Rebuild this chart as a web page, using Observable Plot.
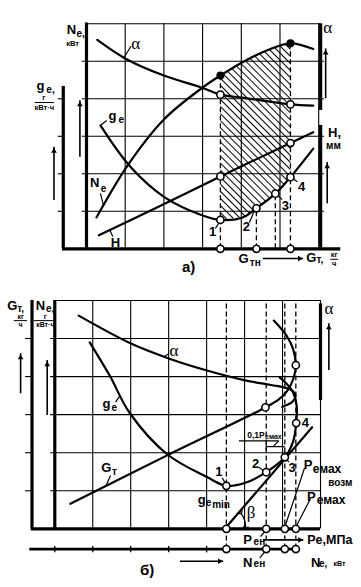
<!DOCTYPE html>
<html><head><meta charset="utf-8">
<script src="https://cdn.jsdelivr.net/npm/d3@7"></script>
<script src="https://cdn.jsdelivr.net/npm/@observablehq/plot@0.6"></script>
<style>
html,body{margin:0;padding:0;background:#fff;}
#chart svg{display:block;}
</style></head><body><div id="chart"></div>
<script>
// ---------- panel а) : curves in grid units ----------
const alphaA = [[0.28,5.57],[1.01,5.07],[2.0,4.62],[3.0,4.29],[3.46,4.11],[4.02,4.03],[4.7,3.93],[5.27,3.85],[5.86,3.82]];
const neA    = [[0.26,0.84],[1.06,2.22],[2.0,3.45],[3.0,4.3],[3.46,4.62],[4.02,4.97],[4.69,5.3],[5.27,5.48],[5.86,5.33]];
const geA    = [[0.36,3.29],[1.14,2.18],[2.01,1.38],[3.0,0.89],[3.46,0.77],[4.02,0.83],[4.39,1.08],[4.88,1.47],[5.27,1.91],[5.86,2.67]];
const hA     = [[0.32,0.36],[1.9,1.14],[3.46,1.93],[5.27,2.82],[5.86,3.11]];
const openA  = [[3.46,4.11],[3.46,1.93],[3.46,0.77],[4.39,1.08],[4.88,1.47],[5.27,3.85],[5.27,2.82],[5.27,1.91]];
const filledA = [[3.46,4.62],[5.27,5.48]];
const axisPtsA = [3.46,4.39,5.27];
const keyXA = [3.46,4.39,4.88,5.27];
const hatchFrom = 3.46, hatchTo = 5.27;

// ---------- panel б) ----------
const alphaB = [[0.63,5.6],[2.02,4.86],[3.02,4.47],[4.01,4.16],[5.02,3.9],[5.7,3.78],[6.1,3.7],[6.28,3.61],[6.34,3.47],[6.25,3.33],[6.1,3.25],[5.99,3.2]];
const geB    = [[0.92,4.9],[1.45,4.02],[1.97,3.05],[2.96,1.96],[4.01,1.36],[4.52,1.13],[5.02,1.21],[5.57,1.49],[6.06,1.88],[6.28,2.3],[6.36,2.78],[6.37,3.25],[6.27,3.6],[6.1,3.82],[5.93,3.97]];
const gtB    = [[0.41,0.66],[2.96,1.93],[5.55,3.19],[5.9,3.4],[6.12,3.62],[6.28,3.93],[6.35,4.3],[6.28,4.72],[6.1,5.08],[5.77,5.47]];
const tangentB = [[4.52,0.05],[6.78,2.67]];
const openB = [[4.52,1.13],[5.57,1.49],[6.06,1.88],[6.36,2.78],[5.55,3.19],[6.35,4.3]];
const keyXB = [4.52,5.57,6.06,6.35];
const peLevel = 0, neLevel = -0.53;
const betaArc = [[4.9,0.42],[4.98,0.28],[5.02,0.14],[5.03,0.02]];

const F = "Liberation Sans, Arial, sans-serif";
const SERIF = "Liberation Serif, Times New Roman, serif";
const range = (a,b) => d3.range(a,b+1);

function txt(data, size, extra={}) {
  return Plot.text(data, {x:"x", y:"y", text:"t", fontSize:size, fontFamily:F, fontWeight:"bold", fill:"black", ...extra});
}
function curve(data, w=2.2) {
  return Plot.line(data, {x:d=>d[0], y:d=>d[1], curve:"catmull-rom", stroke:"black", strokeWidth:w});
}
function segs(data, w=1.2) {
  return Plot.link(data, {x1:"x1", y1:"y1", x2:"x2", y2:"y2", stroke:"black", strokeWidth:w});
}
function upArrows(data) {
  return [Plot.ruleX(data, {x:"x", y1:"y1", y2:"y2", strokeWidth:1.6}),
          Plot.dot(data, {x:"x", y:"y2", symbol:"triangle2", r:2.7, fill:"black", stroke:"none", dy:4})];
}
function rightArrows(data) {
  return [Plot.ruleY(data, {y:"y", x1:"x1", x2:"x2", strokeWidth:1.6}),
          Plot.dot(data, {x:"x2", y:"y", symbol:"triangle2", rotate:90, r:2.7, fill:"black", stroke:"none", dx:-4})];
}
const circ = (data, r=3.6) => Plot.dot(data, {x:d=>d[0], y:d=>d[1], r, fill:"white", stroke:"black", strokeWidth:1.6});

// ---------- labels а) ----------
const labelsA = [
 {x:-0.39,y:5.85,t:"N"},{x:-1.19,y:4.34,t:"g"},{x:0.67,y:3.55,t:"g"},{x:0.21,y:1.76,t:"N"},{x:0.75,y:0.17,t:"H"},
 {x:3.26,y:0.44,t:"1"},{x:4.13,y:0.59,t:"2"},{x:5.14,y:1.15,t:"3"},{x:5.56,y:1.66,t:"4"},
 {x:4.06,y:-0.28,t:"G"},{x:5.81,y:-0.23,t:"G"},{x:6.41,y:3.1,t:"H,"}];
const subsA = [{x:-0.15,y:5.72,t:"e,"},{x:-0.93,y:4.24,t:"e,"},{x:0.9,y:3.45,t:"e"},{x:0.44,y:1.6,t:"e"},
 {x:4.36,y:-0.36,t:"тн"},{x:6.03,y:-0.3,t:"т,"},{x:6.38,y:2.75,t:"мм"}];
const smallA = [{x:-0.36,y:5.46,t:"кВт"},{x:-1.1,y:4.02,t:"г"},{x:-1.09,y:3.77,t:"кВт·ч"},{x:6.4,y:-0.16,t:"кг"},{x:6.4,y:-0.4,t:"ч"}];
const greekA = [{x:6.23,y:5.9,t:"α"},{x:1.27,y:5.47,t:"α"}];
const fracA = [{x1:-1.34,y1:3.9,x2:-0.84,y2:3.9},{x1:6.3,y1:-0.28,x2:6.5,y2:-0.28}];
const leadersA = [
 {x1:1.15,y1:5.4,x2:0.98,y2:5.12},{x1:0.52,y1:3.42,x2:0.36,y2:3.29},{x1:0.36,y1:1.48,x2:0.44,y2:1.15},
 {x1:0.6,y1:0.5,x2:0.68,y2:0.33},{x1:3.33,y1:0.54,x2:3.44,y2:0.72},{x1:4.21,y1:0.7,x2:4.34,y2:1.02},
 {x1:5.06,y1:1.31,x2:4.94,y2:1.42},{x1:5.45,y1:1.79,x2:5.32,y2:1.88}];
const upA = [{x:-0.17,y1:2.44,y2:3.95},{x:-0.84,y1:1.29,y2:2.71},{x:6.18,y1:4.0,y2:5.33},{x:6.22,y1:1.2,y2:2.3}];
const rightA = [{y:-0.26,x1:4.57,x2:5.61}];

// ---------- labels б) ----------
const labelsB = [
 {x:-1.12,y:5.85,t:"G"},{x:-0.38,y:5.87,t:"N"},{x:1.36,y:3.28,t:"g"},{x:1.36,y:1.6,t:"G"},
 {x:4.32,y:1.49,t:"1"},{x:5.29,y:1.72,t:"2"},{x:6.25,y:1.6,t:"3"},{x:6.6,y:2.78,t:"4"},
 {x:3.87,y:0.76,t:"g"},{x:6.67,y:1.68,t:"P"},{x:6.76,y:0.85,t:"P"},{x:5.08,y:-0.29,t:"P"},
 {x:5.08,y:-0.88,t:"N"},{x:6.87,y:-0.88,t:"N"}];
const subsB = [
 {x:-0.9,y:5.77,t:"т,"},{x:-0.12,y:5.77,t:"e,"},{x:1.57,y:3.17,t:"e"},{x:1.57,y:1.5,t:"т"},{x:4.05,y:0.69,t:"e"},
 {x:5.39,y:-0.35,t:"ен"},{x:5.39,y:-0.93,t:"ен"},{x:7.07,y:-0.93,t:"е,"},{x:4.38,y:0.63,t:"min"}];
const pmaxB = [{x:7.17,y:1.58,t:"емах"},{x:7.28,y:0.76,t:"емах"}];
const smallB = [{x:-0.9,y:5.56,t:"кг"},{x:-0.9,y:5.37,t:"ч"},{x:-0.25,y:5.56,t:"г"},{x:-0.25,y:5.37,t:"кВт·ч"},{x:7.5,y:-0.92,t:"кВт"}];
const dimB = [{x:5.3,y:2.45,t:"0,1P"}];
const dimSubB = [{x:5.76,y:2.42,t:"емах"}];
const vozmB = [{x:7.52,y:1.22,t:"возм"}];
const greekB = [{x:7.22,y:5.78,t:"α"},{x:3.14,y:4.68,t:"α"},{x:5.17,y:0.44,t:"β"}];
const fracB = [{x1:-1.08,y1:5.47,x2:-0.73,y2:5.47},{x1:-0.55,y1:5.47,x2:0.0,y2:5.47}];
const leadersB = [
 {x1:3.0,y1:4.6,x2:2.88,y2:4.52},{x1:1.6,y1:3.33,x2:1.72,y2:3.5},{x1:1.47,y1:1.4,x2:1.36,y2:1.16},
 {x1:4.41,y1:1.34,x2:4.5,y2:1.19},{x1:5.37,y1:1.62,x2:5.5,y2:1.53},{x1:6.17,y1:1.75,x2:6.1,y2:1.84},
 {x1:6.58,y1:1.6,x2:6.06,y2:0.05},{x1:6.74,y1:0.8,x2:6.35,y2:0.05},
 {x1:5.42,y1:-0.2,x2:5.55,y2:-0.05},{x1:5.4,y1:-0.76,x2:5.55,y2:-0.58},
 {x1:4.85,y1:2.31,x2:5.9,y2:2.31},{x1:5.9,y1:2.31,x2:5.75,y2:2.16},{x1:5.57,y1:2.16,x2:6.06,y2:2.16},{x1:5.57,y1:2.06,x2:5.57,y2:2.27}];
const upB = [{x:-0.9,y1:3.55,y2:4.6},{x:-0.2,y1:2.98,y2:4.42},{x:7.22,y1:4.16,y2:5.39}];
const rightB = [{y:-0.29,x1:5.5,x2:6.56},{y:-0.85,x1:3.31,x2:4.45}];

// ---------- plot а) ----------
const hatchPoly = neA.filter(d=>d[0]>=hatchFrom && d[0]<=hatchTo)
  .concat(geA.filter(d=>d[0]>=hatchFrom && d[0]<=hatchTo).reverse());
const allPtsA = openA.concat(filledA);
const dashedA = keyXA.map(x => ({x, y1:0, y2:d3.max(allPtsA.filter(p=>p[0]===x), p=>p[1])}));

const plotA = Plot.plot({
  width:361, height:290, margin:0,
  x:{domain:[-2.222,7.106], axis:null}, y:{domain:[-1.112,6.621], axis:null},
  marks:[
    Plot.ruleX(range(1,6), {x:d=>d, y1:0, y2:6, strokeWidth:1.1}),
    Plot.ruleY(range(1,5), {y:d=>d, x1:-0.11, x2:6.15, strokeWidth:1.1}),
    Plot.ruleY([6], {y:d=>d, x1:0, x2:6.05, strokeWidth:1.1}),
    Plot.ruleY(range(1,4), {y:d=>d, x1:-0.73, x2:-0.6, strokeWidth:1.1}),
    Plot.line(hatchPoly, {x:d=>d[0], y:d=>d[1], fill:"#010203", stroke:"none"}),
    Plot.ruleX(dashedA, {x:"x", y1:"y1", y2:"y2", strokeWidth:1.3, strokeDasharray:"5,3"}),
    curve(alphaA), curve(neA), curve(geA), curve(hA),
    Plot.ruleX([0], {x:d=>d, y1:0, y2:6.02, strokeWidth:3.2}),
    Plot.ruleX([-0.6], {x:d=>d, y1:0, y2:4.33, strokeWidth:3.2}),
    Plot.ruleX([6.05], {x:d=>d, y1:3.69, y2:6.0, strokeWidth:3.2}),
    Plot.ruleX([6.05], {x:d=>d, y1:0, y2:3.29, strokeWidth:3.2}),
    Plot.ruleY([0], {y:d=>d, x1:-0.62, x2:6.57, strokeWidth:3.2}),
    segs(leadersA), segs(fracA, 1),
    ...upArrows(upA), ...rightArrows(rightA),
    circ(openA), circ(axisPtsA.map(x=>[x,0])),
    Plot.dot(filledA, {x:d=>d[0], y:d=>d[1], r:4, fill:"black"}),
    txt(labelsA, 13), txt(subsA, 10), txt(smallA, 7.5),
    txt(greekA, 17, {fontFamily:SERIF, fontWeight:"normal"}),
    txt([{x:2.64,y:-0.5,t:"а)"}], 15)
  ]
});

// ---------- plot б) ----------
const dashedB = keyXB.map(x => ({x, y1:neLevel, y2:6}));
const plotB = Plot.plot({
  width:361, height:297, margin:0,
  x:{domain:[-1.43,8.08], axis:null}, y:{domain:[-1.54,6.261], axis:null},
  marks:[
    Plot.ruleX(range(1,7), {x:d=>d, y1:0, y2:6, strokeWidth:1.1}),
    Plot.ruleY(range(1,5), {y:d=>d, x1:-0.11, x2:7, strokeWidth:1.1}),
    Plot.ruleY([6], {y:d=>d, x1:0, x2:7, strokeWidth:1.1}),
    Plot.ruleY(range(1,5), {y:d=>d, x1:-0.77, x2:-0.6, strokeWidth:1.1}),
    Plot.ruleX(range(0,4), {x:d=>d, y1:neLevel-0.1, y2:neLevel+0.07, strokeWidth:1.3}),
    Plot.ruleX(dashedB, {x:"x", y1:"y1", y2:"y2", strokeWidth:1.3, strokeDasharray:"5,3"}),
    curve(alphaB), curve(geB), curve(gtB), curve(tangentB),
    Plot.line(betaArc, {x:d=>d[0], y:d=>d[1], curve:"catmull-rom", stroke:"black", strokeWidth:1.2, markerStart:"arrow", markerEnd:"arrow"}),
    Plot.ruleX([-0.6], {x:d=>d, y1:0, y2:6, strokeWidth:3.2}),
    Plot.ruleX([0], {x:d=>d, y1:0, y2:6, strokeWidth:3.2}),
    Plot.ruleX([7], {x:d=>d, y1:3.37, y2:5.91, strokeWidth:3.2}),
    Plot.ruleY([peLevel], {y:d=>d, x1:-0.62, x2:7.0, strokeWidth:3.2}),
    Plot.ruleY([neLevel], {y:d=>d, x1:-0.66, x2:6.45, strokeWidth:2.8}),
    segs(leadersB), segs(fracB, 1),
    ...upArrows(upB), ...rightArrows(rightB),
    circ(openB), circ(keyXB.map(x=>[x,peLevel])), circ(keyXB.map(x=>[x,neLevel])),
    txt(labelsB, 13), txt(subsB, 10), txt(pmaxB, 12), txt(smallB, 7), txt(vozmB, 10),
    txt(dimB, 8.5), txt(dimSubB, 7),
    txt([{x:6.65,y:-0.29,t:"Pe,МПа"}], 12.5, {textAnchor:"start"}),
    txt(greekB, 17, {fontFamily:SERIF, fontWeight:"normal"}),
    txt([{x:2.43,y:-1.09,t:"б)"}], 15)
  ]
});

const root = document.getElementById("chart");
root.appendChild(plotA);
root.appendChild(plotB);
// hatch pattern
plotA.insertAdjacentHTML("afterbegin",
 '<defs><pattern id="hatchA" patternUnits="userSpaceOnUse" width="5" height="5" patternTransform="rotate(-45)"><line x1="0.5" y1="-1" x2="0.5" y2="6" stroke="black" stroke-width="1"/></pattern></defs>');
plotA.querySelectorAll('[fill="#010203"]').forEach(el => el.setAttribute("fill","url(#hatchA)"));
</script></body></html>
